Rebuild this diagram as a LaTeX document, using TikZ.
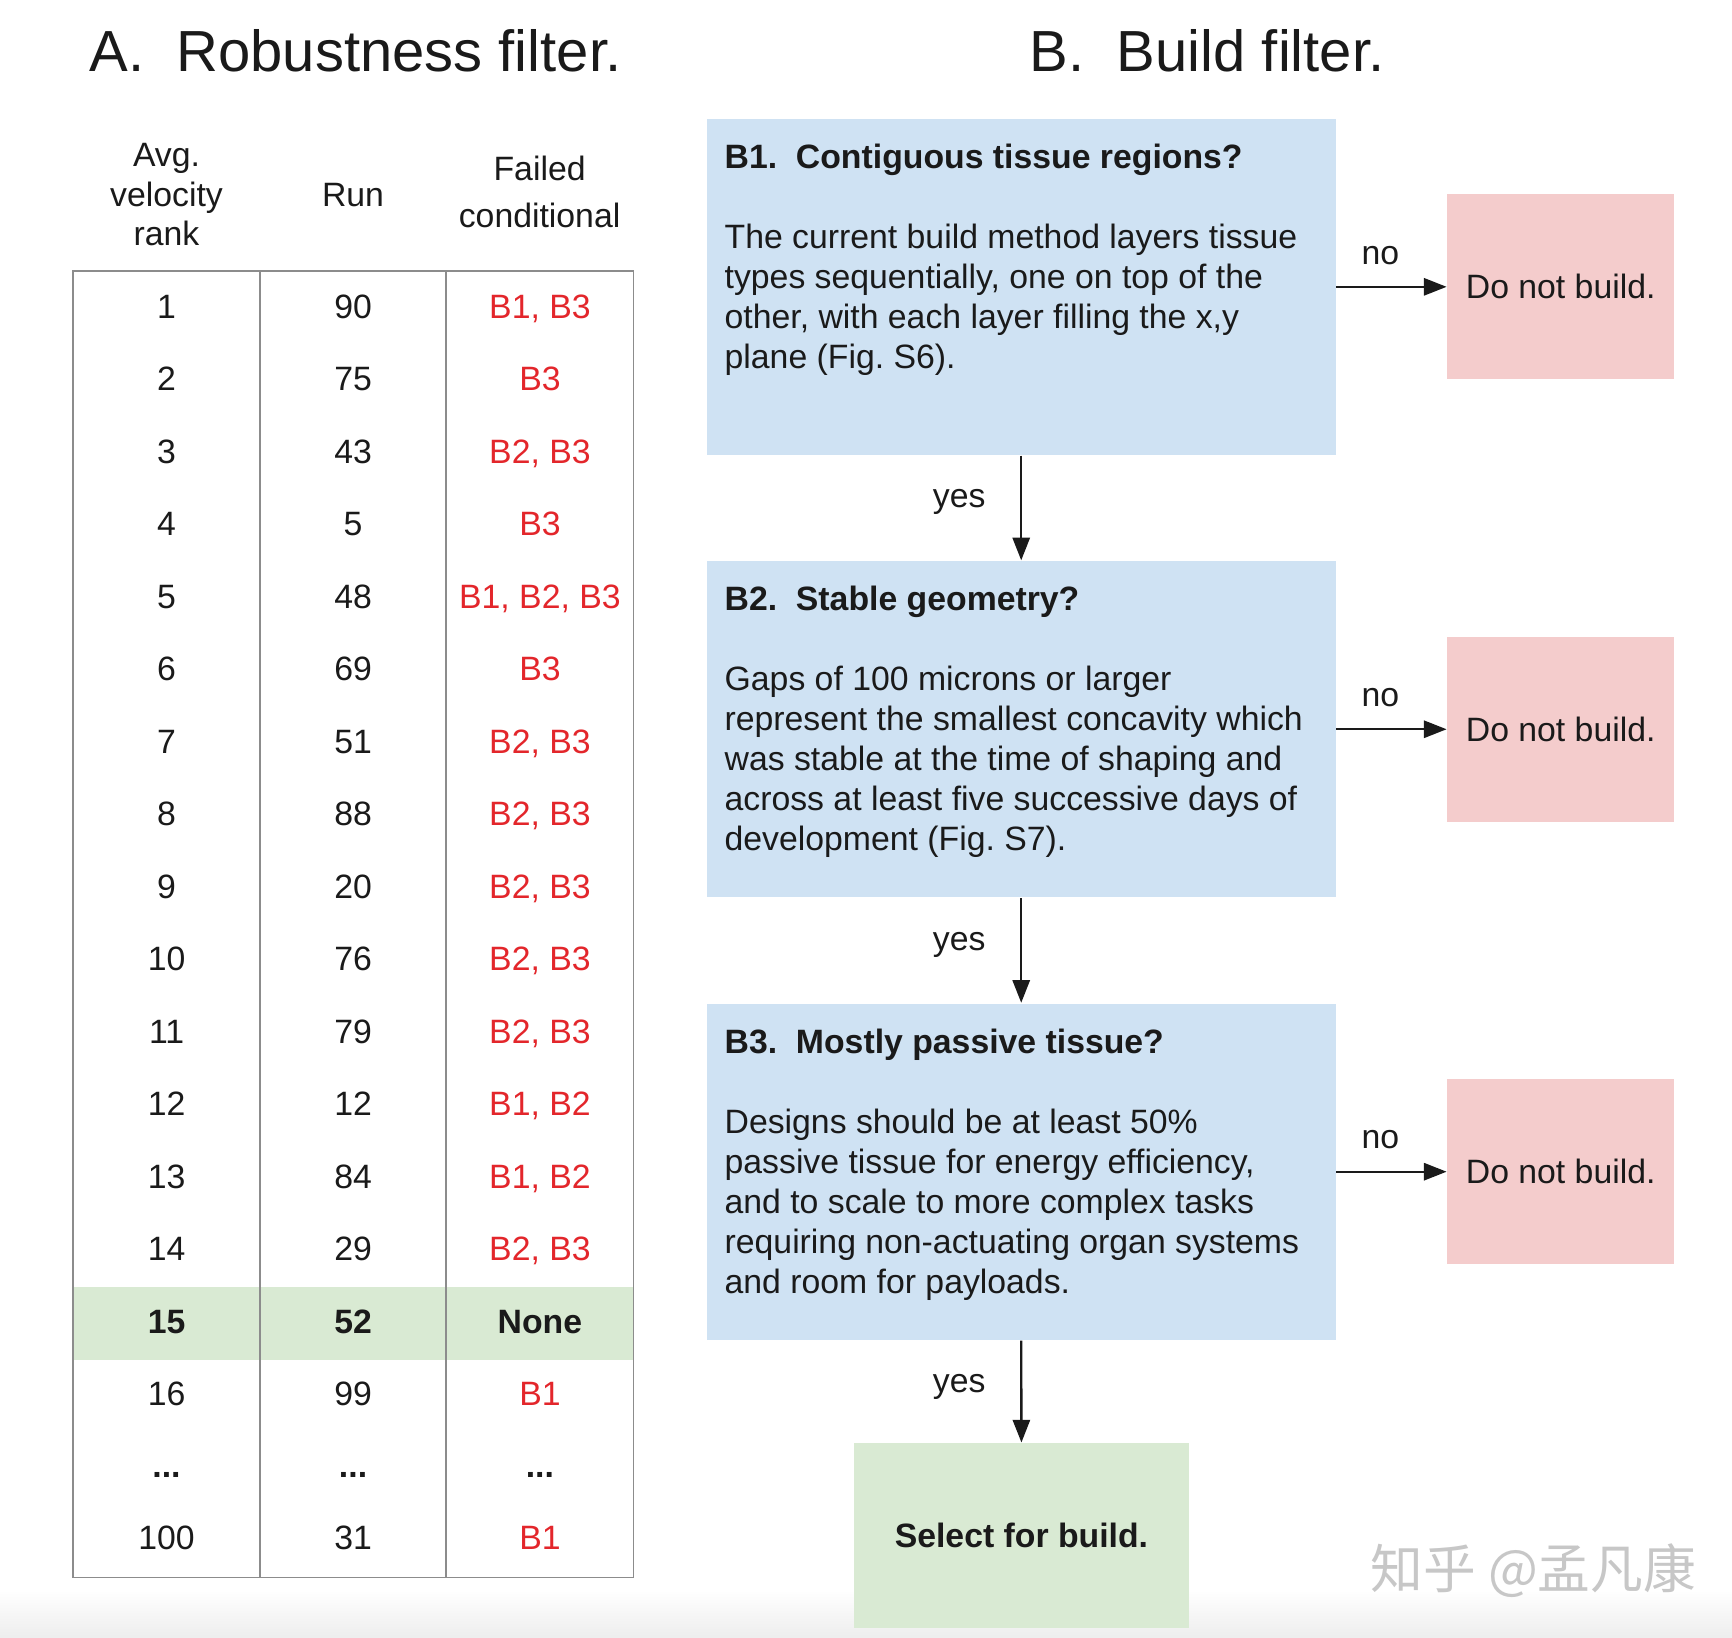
\documentclass[tikz,border=0pt]{standalone}
\usepackage{fontspec}
\setmainfont{Liberation Sans}
\newfontfamily\cjkfont{Noto Sans CJK SC}
\usetikzlibrary{arrows.meta}
\definecolor{boxblue}{HTML}{CFE2F3}
\definecolor{boxpink}{HTML}{F4CCCC}
\definecolor{boxgreen}{HTML}{D9EAD3}
\definecolor{failred}{HTML}{E3262B}
\definecolor{tableline}{HTML}{8C8C8C}
\definecolor{ink}{HTML}{1A1A1A}
\frenchspacing
\begin{document}
\begin{tikzpicture}[x=0.01cm,y=-0.01cm,
  body/.style={font=\fontsize{8.65}{10.24}\selectfont, text=ink, inner sep=0pt},
  cell/.style={body, anchor=base},
  redcell/.style={cell, text=failred},
  titletext/.style={font=\fontsize{14.85}{17}\selectfont, text=ink, inner sep=0pt, anchor=base west},
  line/.style={body, anchor=base west},
  head/.style={body, anchor=base west, font=\fontsize{8.65}{10.24}\selectfont\bfseries},
  bluebox/.style={fill=boxblue, draw=none, minimum width=5.66cm, minimum height=3.027cm, inner sep=0pt},
  pinkbox/.style={fill=boxpink, draw=none, minimum width=2.04cm, minimum height=1.663cm, inner sep=0pt, font=\fontsize{8.65}{10.24}\selectfont, text=ink},
  greenbox/.style={fill=boxgreen, draw=none, minimum width=3.02cm, minimum height=1.66cm, inner sep=0pt, font=\fontsize{8.65}{10.24}\selectfont\bfseries, text=ink},
  arr/.style={-{Triangle[length=5.8pt,width=4.4pt]}, line width=0.6pt, draw=ink},
  grid/.style={draw=tableline, line width=0.45pt}
]
\useasboundingbox (0,0) rectangle (1560,1475.3);
\fill[white] (0,0) rectangle (1560,1475.3);
\shade[top color=white, bottom color=black!7] (0,1432) rectangle (1560,1475.3);

% titles
\node[titletext] (titleA) at (80,64.5) {A.\ \ Robustness filter.};
\node[titletext] (titleB) at (927,64.5) {B.\ \ Build filter.};

% table header
\node[cell] (hA1) at (150,150) {Avg.};
\node[cell] (hA2) at (150,186) {velocity};
\node[cell] (hA3) at (150,221) {rank};
\node[cell] (hB) at (318,186) {Run};
\node[cell] (hC1) at (486,163) {Failed};
\node[cell] (hC2) at (486,205) {conditional};

% table body
\fill[boxgreen] (65.5,1159.6) rectangle (570.6,1225);
\draw[grid] (65.5,244.2) rectangle (570.6,1420.8);
\draw[grid] (234.4,244.2) -- (234.4,1420.8);
\draw[grid] (402,244.2) -- (402,1420.8);

\foreach \rk/\rn/\fc [count=\i] in {1/90/{B1, B3},2/75/{B3},3/43/{B2, B3},4/5/{B3},5/48/{B1, B2, B3},6/69/{B3},7/51/{B2, B3},8/88/{B2, B3},9/20/{B2, B3},10/76/{B2, B3},11/79/{B2, B3},12/12/{B1, B2},13/84/{B1, B2},14/29/{B2, B3}}{
  \node[cell] (rank\i) at (150,{286.6+(\i-1)*65.3}) {\rk};
  \node[cell] (run\i) at (318,{286.6+(\i-1)*65.3}) {\rn};
  \node[redcell] (fail\i) at (486.3,{286.6+(\i-1)*65.3}) {\fc};
}
\node[cell, font=\fontsize{8.65}{10.24}\selectfont\bfseries] (rank15) at (150,1200.8) {15};
\node[cell, font=\fontsize{8.65}{10.24}\selectfont\bfseries] (run15) at (318,1200.8) {52};
\node[cell, font=\fontsize{8.65}{10.24}\selectfont\bfseries] (fail15) at (486.3,1200.8) {None};
\node[cell] (rank16) at (150,1266.1) {16};
\node[cell] (run16) at (318,1266.1) {99};
\node[redcell] (fail16) at (486.3,1266.1) {B1};
\node[cell, font=\fontsize{8.65}{10.24}\selectfont\bfseries] (rankdots) at (150,1331) {...};
\node[cell, font=\fontsize{8.65}{10.24}\selectfont\bfseries] (rundots) at (318,1331) {...};
\node[cell, font=\fontsize{8.65}{10.24}\selectfont\bfseries] (faildots) at (486.3,1331) {...};
\node[cell] (rank100) at (150,1395.2) {100};
\node[cell] (run100) at (318,1395.2) {31};
\node[redcell] (fail100) at (486.3,1395.2) {B1};

% flowchart boxes
\node[bluebox] (b1) at (919.8,258.35) {};
\node[bluebox] (b2) at (919.8,656.85) {};
\node[bluebox] (b3) at (919.8,1055.35) {};
\node[pinkbox] (p1) at (1405.7,258.35) {Do not build.};
\node[pinkbox] (p2) at (1405.7,656.85) {Do not build.};
\node[pinkbox] (p3) at (1405.7,1055.35) {Do not build.};
\node[greenbox] (g) at (920,1383) {Select for build.};

% box texts
\node[head] (b1h) at (652,151.6) {B1.\ \ Contiguous tissue regions?};
\foreach \t [count=\k] in {{The current build method layers tissue},{types sequentially, one on top of the},{other, with each layer filling the x,y},{plane (Fig. S6).}}
  \node[line] (b1t\k) at (652,{151.6+36+\k*36}) {\t};
\node[head] (b2h) at (652,550.1) {B2.\ \ Stable geometry?};
\foreach \t [count=\k] in {{Gaps of 100 microns or larger},{represent the smallest concavity which},{was stable at the time of shaping and},{across at least five successive days of},{development (Fig. S7).}}
  \node[line] (b2t\k) at (652,{550.1+36+\k*36}) {\t};
\node[head] (b3h) at (652,948.6) {B3.\ \ Mostly passive tissue?};
\foreach \t [count=\k] in {{Designs should be at least 50\%},{passive tissue for energy efficiency,},{and to scale to more complex tasks},{requiring non-actuating organ systems},{and room for payloads.}}
  \node[line] (b3t\k) at (652,{948.6+36+\k*36}) {\t};

% connectors
\draw[arr] (b1.east) -- node[cell, pos=0.4, yshift=20.5*0.01cm] (no1) {no} (p1.west);
\draw[arr] (b2.east) -- node[cell, pos=0.4, yshift=20.5*0.01cm] (no2) {no} (p2.west);
\draw[arr] (b3.east) -- node[cell, pos=0.4, yshift=20.5*0.01cm] (no3) {no} (p3.west);
\draw[arr] (b1.south) -- (b2.north);
\draw[arr] (b2.south) -- (b3.north);
\draw[arr] (b3.south) -- (g.north);
\node[cell] (yes1) at (864,457.3) {yes};
\node[cell] (yes2) at (864,855.8) {yes};
\node[cell] (yes3) at (864,1254.3) {yes};

% watermark
\node[font=\cjkfont\fontsize{13.5}{13.5}\selectfont, text=black!22, anchor=base west, inner sep=0pt] (wm) at (1234,1431) {知乎 @孟凡康};
\end{tikzpicture}
\end{document}
